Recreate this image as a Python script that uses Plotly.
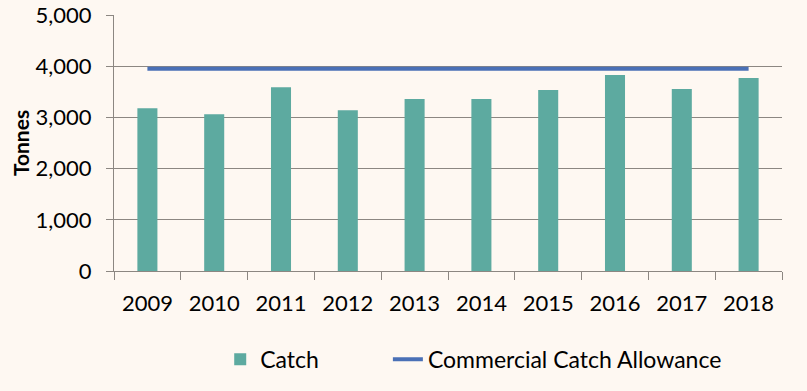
import plotly.graph_objects as go

years = ["2009", "2010", "2011", "2012", "2013", "2014", "2015", "2016", "2017", "2018"]
catch = [3180, 3060, 3590, 3140, 3360, 3360, 3535, 3830, 3555, 3770]
allowance = [3950] * 10

BG = "#FEF8F2"
GRID = "#8C8782"
FONT = "Lato"

fig = go.Figure()
fig.add_trace(go.Bar(x=years, y=catch, name="Catch", marker_color="#5DAAA0",
                     marker_line_width=0, legend="legend"))
fig.add_trace(go.Scatter(x=years, y=allowance, name="Commercial Catch Allowance",
                         mode="lines", line=dict(color="#4A70B6", width=4),
                         legend="legend2"))

leg_common = dict(orientation="h", xref="paper", yref="paper", y=-0.345,
                  xanchor="left", yanchor="middle", font=dict(size=23),
                  bgcolor="rgba(0,0,0,0)", borderwidth=0)

fig.update_layout(
    width=807, height=391,
    paper_bgcolor=BG, plot_bgcolor=BG,
    margin=dict(l=114, r=25, t=15, b=120, autoexpand=False),
    font=dict(family=FONT, size=22, color="#000000"),
    bargap=0.7,
    showlegend=True,
    legend=dict(x=0.159, **leg_common),
    legend2=dict(x=0.41, **leg_common),
    xaxis=dict(type="category", showline=True, linecolor=GRID, linewidth=1,
               ticks="outside", ticklen=8, tickcolor=GRID, tickson="boundaries",
               showgrid=False, tickfont=dict(size=22), automargin=False,
               ticklabelstandoff=13, ticklabeloverflow="allow"),
    yaxis=dict(range=[0, 5000], dtick=1000,
               tickformat=",", showline=True,
               linecolor=GRID, linewidth=1, ticks="outside", ticklen=7,
               tickcolor=GRID, gridcolor=GRID, gridwidth=1, zeroline=False,
               tickfont=dict(size=22), automargin=False, ticklabelstandoff=10,
               ticklabeloverflow="allow",
               title=dict(text="<b>Tonnes</b>", font=dict(size=21), standoff=0)),
)

fig.write_html("out.html", config={"displayModeBar": False},
               post_script="document.body.style.margin='0';")
